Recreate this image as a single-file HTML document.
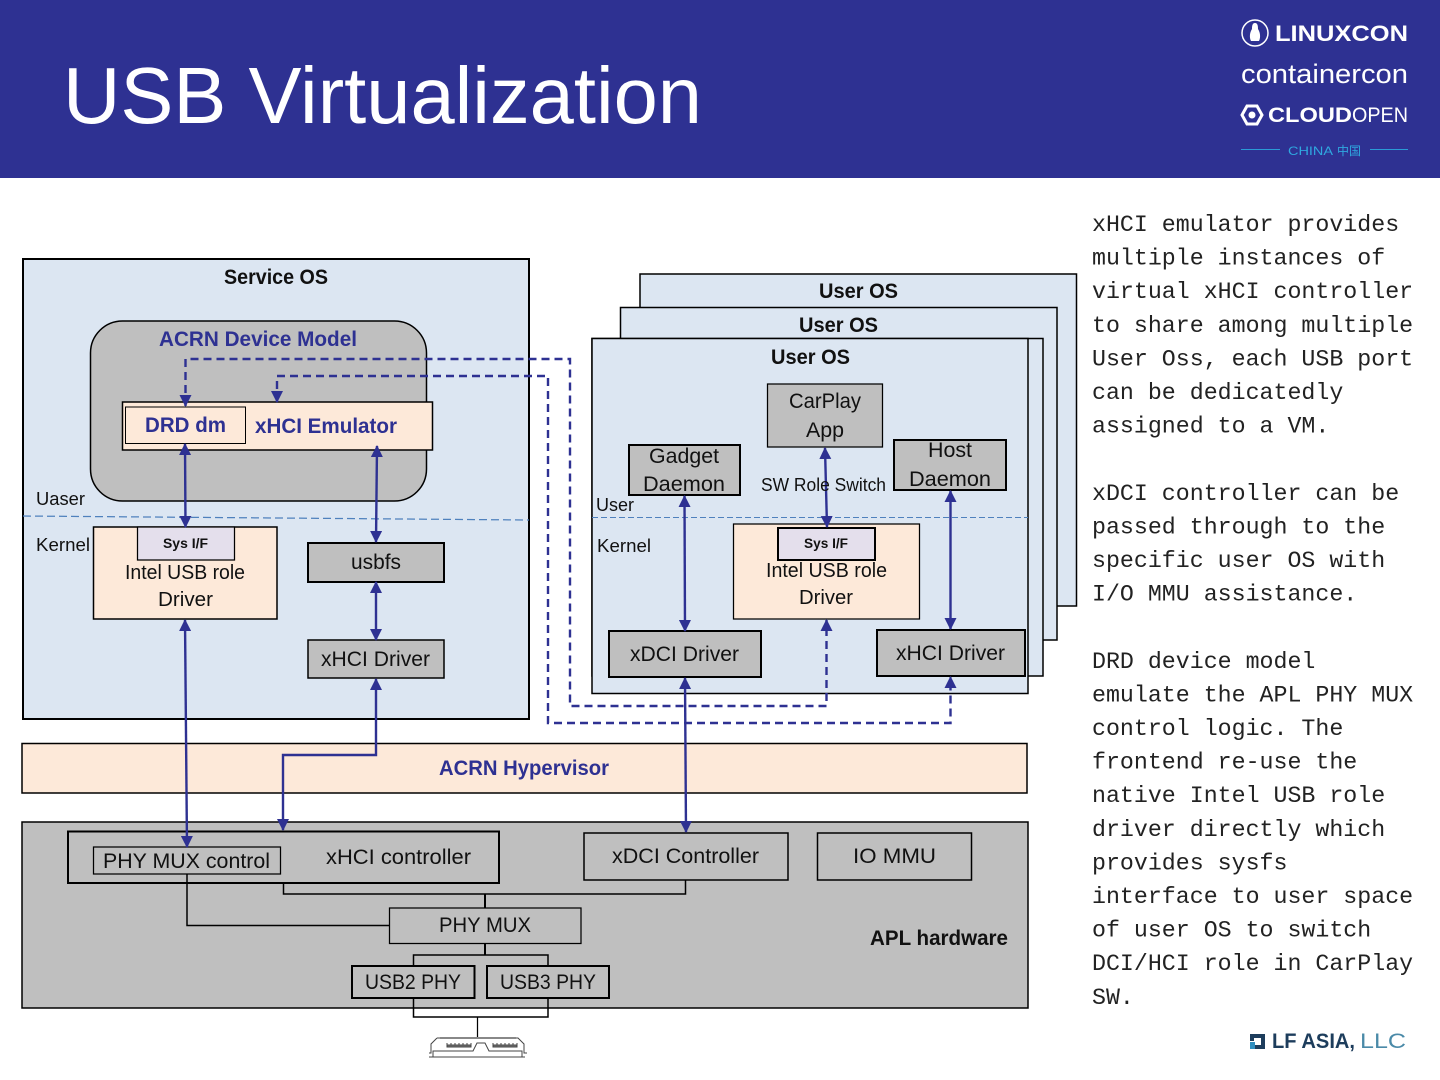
<!DOCTYPE html>
<html><head><meta charset="utf-8"><title>USB Virtualization</title>
<style>
html,body{margin:0;padding:0;background:#fff}
svg{display:block}
text{font-family:"Liberation Sans",sans-serif;fill:#111}
.b{font-weight:bold}
.u{fill:#2e3192;font-weight:bold}
.m{font-family:"Liberation Mono",monospace;font-size:23.27px;fill:#222}
.s{fill:none;stroke:#2e3192;stroke-width:2.400}
.d{fill:none;stroke:#2e3192;stroke-width:2.400;stroke-dasharray:8 5}
.k{fill:none;stroke:#000}
</style></head><body>
<svg width="1440" height="1080" viewBox="0 0 1440 1080" xmlns="http://www.w3.org/2000/svg">
<defs>
<marker id="a" viewBox="0 0 12 12" refX="11" refY="6" markerUnits="userSpaceOnUse" markerWidth="12" markerHeight="12" orient="auto-start-reverse"><path d="M0 0L12 6L0 12Z" fill="#2e3192"/></marker>
</defs>
<rect width="1440" height="1080" fill="#fff"/>
<rect width="1440" height="178" fill="#2e3192"/>
<text x="63" y="123" font-size="80" textLength="639" lengthAdjust="spacingAndGlyphs" style="fill:#fff">USB Virtualization</text>

<!-- logos -->
<circle cx="1255" cy="33" r="13" fill="none" stroke="#fff" stroke-width="1.500"/>
<path d="M1255 23c3 0 3 4 3 6 2 3 3 8 1 12h-8c-2-4-1-9 1-12 0-2 0-6 3-6z" fill="#fff"/>
<text x="1275" y="41" font-size="22" class="b" textLength="133" lengthAdjust="spacingAndGlyphs" style="fill:#fff">LINUXCON</text>
<text x="1241" y="83" font-size="27" textLength="167" lengthAdjust="spacingAndGlyphs" style="fill:#fff">containercon</text>
<path d="M1247 106h10l5 9-5 9h-10l-5-9z" fill="none" stroke="#fff" stroke-width="3"/>
<circle cx="1252" cy="115" r="3.500" fill="#fff"/>
<text x="1268" y="122" font-size="21" class="b" textLength="84" lengthAdjust="spacingAndGlyphs" style="fill:#fff">CLOUD</text>
<text x="1352" y="122" font-size="21" textLength="56" lengthAdjust="spacingAndGlyphs" style="fill:#fff">OPEN</text>
<path d="M1241 149.500h39M1370 149.500h38" stroke="#2b9ad6" stroke-width="1"/>
<text x="1288" y="155" font-size="12" textLength="45" lengthAdjust="spacingAndGlyphs" style="fill:#2fa8e0">CHINA</text>
<text x="1337" y="155" font-size="12" textLength="24" lengthAdjust="spacingAndGlyphs" style="fill:#2fa8e0;font-family:'Liberation Sans','Noto Sans CJK SC',sans-serif">中国</text>

<!-- Service OS -->
<rect x="23" y="259" width="506" height="460" fill="#dce6f2" stroke="#000" stroke-width="2"/>
<rect x="90.500" y="321" width="336" height="180" rx="32" fill="#bfbfbf" stroke="#000" stroke-width="1.500"/>
<rect x="122.500" y="402" width="310" height="48" fill="#fde9d9" stroke="#000" stroke-width="1.500"/>
<rect x="125.500" y="407" width="120" height="36.500" fill="#fde9d9" stroke="#000" stroke-width="1"/>
<path d="M23 516L529 520" stroke="#4f81bd" stroke-width="1.250" stroke-dasharray="8 4" fill="none"/>
<rect x="93.500" y="527" width="183.500" height="92" fill="#fde9d9" stroke="#000" stroke-width="1.500"/>
<rect x="137.500" y="527" width="97" height="33" fill="#e4dfec" stroke="#000" stroke-width="1.250"/>
<rect x="308" y="543" width="136" height="39" fill="#bfbfbf" stroke="#000" stroke-width="2"/>
<rect x="308" y="640" width="136" height="38" fill="#bfbfbf" stroke="#000" stroke-width="1.500"/>

<!-- User OS stack -->
<rect x="640" y="274" width="436.500" height="332" fill="#dce6f2" stroke="#000" stroke-width="1.500"/>
<rect x="620.500" y="307.500" width="436.500" height="332.500" fill="#dce6f2" stroke="#000" stroke-width="1.500"/>
<rect x="592" y="338.500" width="451" height="337.500" fill="#dce6f2" stroke="#000" stroke-width="1.500"/>
<rect x="592" y="338.500" width="436" height="355" fill="#dce6f2" stroke="#000" stroke-width="1.500"/>
<path d="M592 517.500H1028" stroke="#4f81bd" stroke-width="1" stroke-dasharray="6 3" fill="none"/>
<rect x="767.500" y="384" width="115" height="63" fill="#bfbfbf" stroke="#000" stroke-width="1.250"/>
<rect x="629" y="445" width="111" height="50" fill="#bfbfbf" stroke="#000" stroke-width="2"/>
<rect x="894" y="440" width="112" height="50" fill="#bfbfbf" stroke="#000" stroke-width="2"/>
<rect x="733.500" y="524" width="186" height="95" fill="#fde9d9" stroke="#000" stroke-width="1.250"/>
<rect x="778" y="528" width="97" height="32" fill="#e4dfec" stroke="#000" stroke-width="2"/>
<rect x="609" y="631" width="152" height="46" fill="#bfbfbf" stroke="#000" stroke-width="2"/>
<rect x="877" y="630" width="148" height="46" fill="#bfbfbf" stroke="#000" stroke-width="2"/>

<!-- Hypervisor / HW -->
<rect x="22" y="743.500" width="1005" height="49.500" fill="#fde9d9" stroke="#000" stroke-width="1.500"/>
<rect x="22" y="822" width="1006" height="186" fill="#bfbfbf" stroke="#000" stroke-width="1.500"/>
<rect x="68" y="831.500" width="431" height="51.500" fill="#bfbfbf" stroke="#000" stroke-width="2"/>
<rect x="93.500" y="847" width="187" height="27" fill="#bfbfbf" stroke="#000" stroke-width="1.250"/>
<rect x="584" y="833" width="204" height="47" fill="#bfbfbf" stroke="#000" stroke-width="1.500"/>
<rect x="817.500" y="833" width="154" height="47" fill="#bfbfbf" stroke="#000" stroke-width="1.500"/>
<path class="k" stroke-width="1.500" d="M283.500 883V894H685.500V880"/>
<path class="k" stroke-width="2" d="M485 894V908M485 943V955"/>
<rect x="389.500" y="908" width="191.500" height="35.500" fill="#bfbfbf" stroke="#000" stroke-width="1.250"/>
<path class="k" stroke-width="1.500" d="M187 874V925.500H389.500"/>
<path class="k" stroke-width="1.500" d="M413.500 966V955H548V966M413.500 998V1017H548V998"/>
<path class="k" stroke-width="1.250" d="M477.500 1017V1037"/>
<rect x="352" y="966" width="122.500" height="32" fill="#bfbfbf" stroke="#000" stroke-width="2"/>
<rect x="487" y="966" width="122" height="32" fill="#bfbfbf" stroke="#000" stroke-width="2"/>

<!-- USB connector -->
<g fill="none" stroke="#444" stroke-width="1">
<path d="M437 1038H518L524 1044V1053H527M437 1038L431 1044V1053H429"/>
<path d="M429 1057H525M433 1057V1051H473L477 1043H485L489 1051H522V1057"/>
<path d="M447 1043v3M451 1043v3M455 1043v3M459 1043v3M463 1043v3M467 1043v3M471 1043v3M493 1043v3M497 1043v3M501 1043v3M505 1043v3M509 1043v3M513 1043v3M517 1043v3"/>
<rect x="447" y="1045" width="24" height="2" fill="#777"/>
<rect x="493" y="1045" width="24" height="2" fill="#777"/>
</g>
<path d="M440 1038H516" stroke="#888" stroke-width="2"/>

<!-- arrows -->
<path class="s" marker-start="url(#a)" marker-end="url(#a)" d="M185 444L185.500 527"/>
<path class="s" marker-start="url(#a)" marker-end="url(#a)" d="M377 446L376 542"/>
<path class="s" marker-start="url(#a)" marker-end="url(#a)" d="M185 620L187 847"/>
<path class="s" marker-start="url(#a)" marker-end="url(#a)" d="M376 582V640"/>
<path class="s" marker-start="url(#a)" marker-end="url(#a)" d="M376 679V755H283V830"/>
<path class="s" marker-start="url(#a)" marker-end="url(#a)" d="M684.500 496L685 631"/>
<path class="s" marker-start="url(#a)" marker-end="url(#a)" d="M825 448L827 527"/>
<path class="s" marker-start="url(#a)" marker-end="url(#a)" d="M950.500 491V629"/>
<path class="s" marker-start="url(#a)" marker-end="url(#a)" d="M685 678L686 832"/>
<path class="d" marker-start="url(#a)" marker-end="url(#a)" d="M185.500 406V359H570V706H826.500V620"/>
<path class="d" marker-start="url(#a)" marker-end="url(#a)" d="M277 402V376H548V723H950.500V677"/>

<!-- labels -->
<g font-size="21" transform="translate(0,-1)">
<text x="224" y="285" class="b" textLength="104" lengthAdjust="spacingAndGlyphs">Service OS</text>
<text x="159" y="347" class="u" textLength="198" lengthAdjust="spacingAndGlyphs">ACRN Device Model</text>
<text x="145" y="433" class="u" textLength="81" lengthAdjust="spacingAndGlyphs">DRD dm</text>
<text x="255" y="434" class="u" textLength="142" lengthAdjust="spacingAndGlyphs">xHCI Emulator</text>
<text x="36" y="506" font-size="18" textLength="49" lengthAdjust="spacingAndGlyphs">Uaser</text>
<text x="36" y="552" font-size="18" textLength="54" lengthAdjust="spacingAndGlyphs">Kernel</text>
<text x="163" y="549" font-size="14" class="b" textLength="45" lengthAdjust="spacingAndGlyphs">Sys I/F</text>
<text x="125" y="580" font-size="20" textLength="120" lengthAdjust="spacingAndGlyphs">Intel USB role</text>
<text x="158" y="607" font-size="20" textLength="55" lengthAdjust="spacingAndGlyphs">Driver</text>
<text x="351" y="570" textLength="50" lengthAdjust="spacingAndGlyphs">usbfs</text>
<text x="321" y="667" textLength="109" lengthAdjust="spacingAndGlyphs">xHCI Driver</text>
<text x="439" y="776" class="u" textLength="170" lengthAdjust="spacingAndGlyphs">ACRN Hypervisor</text>
<text x="326" y="865" textLength="145" lengthAdjust="spacingAndGlyphs">xHCI controller</text>
<text x="103" y="869" textLength="167" lengthAdjust="spacingAndGlyphs">PHY MUX control</text>
<text x="612" y="864" textLength="147" lengthAdjust="spacingAndGlyphs">xDCI Controller</text>
<text x="853" y="864" textLength="83" lengthAdjust="spacingAndGlyphs">IO MMU</text>
<text x="439" y="933" textLength="92" lengthAdjust="spacingAndGlyphs">PHY MUX</text>
<text x="870" y="946" class="b" textLength="138" lengthAdjust="spacingAndGlyphs">APL hardware</text>
<text x="365" y="990" textLength="96" lengthAdjust="spacingAndGlyphs">USB2 PHY</text>
<text x="500" y="990" textLength="96" lengthAdjust="spacingAndGlyphs">USB3 PHY</text>
<text x="819" y="299" class="b" textLength="79" lengthAdjust="spacingAndGlyphs">User OS</text>
<text x="799" y="333" class="b" textLength="79" lengthAdjust="spacingAndGlyphs">User OS</text>
<text x="771" y="365" class="b" textLength="79" lengthAdjust="spacingAndGlyphs">User OS</text>
<text x="789" y="409" textLength="72" lengthAdjust="spacingAndGlyphs">CarPlay</text>
<text x="806" y="438" textLength="38" lengthAdjust="spacingAndGlyphs">App</text>
<text x="649" y="464" textLength="70" lengthAdjust="spacingAndGlyphs">Gadget</text>
<text x="643" y="492" textLength="82" lengthAdjust="spacingAndGlyphs">Daemon</text>
<text x="928" y="458" textLength="44" lengthAdjust="spacingAndGlyphs">Host</text>
<text x="909" y="487" textLength="82" lengthAdjust="spacingAndGlyphs">Daemon</text>
<text x="761" y="492" font-size="18" textLength="125" lengthAdjust="spacingAndGlyphs">SW Role Switch</text>
<text x="596" y="512" font-size="18" textLength="38" lengthAdjust="spacingAndGlyphs">User</text>
<text x="597" y="553" font-size="18" textLength="54" lengthAdjust="spacingAndGlyphs">Kernel</text>
<text x="804" y="549" font-size="14" class="b" textLength="44" lengthAdjust="spacingAndGlyphs">Sys I/F</text>
<text x="766" y="578" font-size="20" textLength="121" lengthAdjust="spacingAndGlyphs">Intel USB role</text>
<text x="799" y="605" font-size="20" textLength="54" lengthAdjust="spacingAndGlyphs">Driver</text>
<text x="630" y="662" textLength="109" lengthAdjust="spacingAndGlyphs">xDCI Driver</text>
<text x="896" y="661" textLength="109" lengthAdjust="spacingAndGlyphs">xHCI Driver</text>
</g>

<!-- right text -->
<g class="m" transform="translate(0,-1)">
<text class="m" x="1092" y="232">xHCI emulator provides</text>
<text class="m" x="1092" y="265.600">multiple instances of</text>
<text class="m" x="1092" y="299.200">virtual xHCI controller</text>
<text class="m" x="1092" y="332.800">to share among multiple</text>
<text class="m" x="1092" y="366.400">User Oss, each USB port</text>
<text class="m" x="1092" y="400">can be dedicatedly</text>
<text class="m" x="1092" y="433.600">assigned to a VM.</text>
<text class="m" x="1092" y="500.800">xDCI controller can be</text>
<text class="m" x="1092" y="534.400">passed through to the</text>
<text class="m" x="1092" y="568">specific user OS with</text>
<text class="m" x="1092" y="601.600">I/O MMU assistance.</text>
<text class="m" x="1092" y="668.800">DRD device model</text>
<text class="m" x="1092" y="702.400">emulate the APL PHY MUX</text>
<text class="m" x="1092" y="736">control logic. The</text>
<text class="m" x="1092" y="769.600">frontend re-use the</text>
<text class="m" x="1092" y="803.200">native Intel USB role</text>
<text class="m" x="1092" y="836.800">driver directly which</text>
<text class="m" x="1092" y="870.400">provides sysfs</text>
<text class="m" x="1092" y="904">interface to user space</text>
<text class="m" x="1092" y="937.600">of user OS to switch</text>
<text class="m" x="1092" y="971.200">DCI/HCI role in CarPlay</text>
<text class="m" x="1092" y="1004.800">SW.</text>
</g>

<!-- footer logo -->
<path d="M1250 1034H1265V1049H1250V1045H1261V1038H1254V1041H1250Z" fill="#1d3d5c"/>
<rect x="1250" y="1042" width="5" height="7" fill="#2f8fc0"/>
<text x="1272" y="1048" font-size="21" class="b" textLength="83" lengthAdjust="spacingAndGlyphs" style="fill:#1d3d5c">LF ASIA,</text>
<text x="1360" y="1048" font-size="21" textLength="46" lengthAdjust="spacingAndGlyphs" style="fill:#4a8aa8">LLC</text>
</svg>
</body></html>
